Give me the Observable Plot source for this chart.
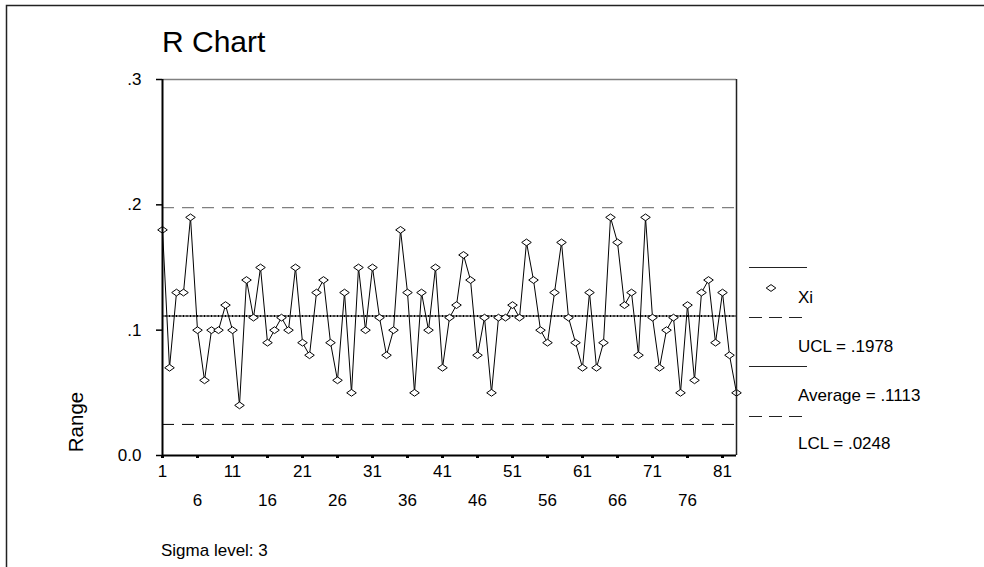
<!DOCTYPE html>
<html>
<head>
<meta charset="utf-8">
<script src="https://cdn.jsdelivr.net/npm/d3@7"></script>
<script src="https://cdn.jsdelivr.net/npm/@observablehq/plot@0.6"></script>
<style>
  html, body { margin: 0; padding: 0; background: #fff; }
  #wrap { position: relative; width: 984px; height: 567px; overflow: hidden; }
  #wrap svg { position: absolute; left: 0; top: 0; }
</style>
</head>
<body>
<div id="wrap"></div>
<script>
// ---- data ----
const samples = d3.range(1, 84);
const ranges = [
  0.18, 0.07, 0.13, 0.13, 0.19, 0.10, 0.06, 0.10, 0.10, 0.12,
  0.10, 0.04, 0.14, 0.11, 0.15, 0.09, 0.10, 0.11, 0.10, 0.15,
  0.09, 0.08, 0.13, 0.14, 0.09, 0.06, 0.13, 0.05, 0.15, 0.10,
  0.15, 0.11, 0.08, 0.10, 0.18, 0.13, 0.05, 0.13, 0.10, 0.15,
  0.07, 0.11, 0.12, 0.16, 0.14, 0.08, 0.11, 0.05, 0.11, 0.11,
  0.12, 0.11, 0.17, 0.14, 0.10, 0.09, 0.13, 0.17, 0.11, 0.09,
  0.07, 0.13, 0.07, 0.09, 0.19, 0.17, 0.12, 0.13, 0.08, 0.19,
  0.11, 0.07, 0.10, 0.11, 0.05, 0.12, 0.06, 0.13, 0.14, 0.09,
  0.13, 0.08, 0.05
];
const ucl = 0.1978;
const average = 0.1113;
const lcl = 0.0248;
const sigmaLevel = 3;
const yTicks = [0, 0.1, 0.2, 0.3];
const xTicksRow1 = [1, 11, 21, 31, 41, 51, 61, 71, 81];
const xTicksRow2 = [6, 16, 26, 36, 46, 56, 66, 76];
const titleText = "R Chart";
const yLabel = "Range";
const seriesName = "Xi";

const data = samples.map((s, i) => ({sample: s, range: ranges[i]}));
const fmt4 = v => d3.format(".4f")(v).replace(/^0/, "");
const yFmt = v => v === 0 ? "0.0" : d3.format(".1f")(v).replace(/^0/, "");

const FONT = "'Liberation Sans', Arial, Helvetica, sans-serif";

const diamond = {
  draw(ctx, size) {
    const r = Math.sqrt(size / Math.PI);
    const w = r * 1.2, h = r * 0.85;
    ctx.moveTo(0, -h); ctx.lineTo(w, 0); ctx.lineTo(0, h); ctx.lineTo(-w, 0); ctx.closePath();
  }
};

const chart = Plot.plot({
  width: 984,
  height: 567,
  marginLeft: 162,
  marginRight: 248,
  marginTop: 79,
  marginBottom: 112,
  style: {fontFamily: FONT, fontSize: "17px", background: "transparent", color: "#000"},
  x: {domain: [1, 83]},
  y: {domain: [0, 0.3]},
  marks: [
    Plot.ruleY([ucl], {stroke: "#808080", strokeWidth: 1.2, strokeDasharray: "12,8"}),
    Plot.ruleY([lcl], {stroke: "#000", strokeWidth: 1, strokeDasharray: "12,8"}),
    Plot.ruleY([average], {stroke: "#000", strokeWidth: 1}),
    Plot.ruleY([average], {stroke: "#000", strokeWidth: 2, strokeDasharray: "1,2.5"}),
    Plot.line(data, {x: "sample", y: "range", stroke: "#000", strokeWidth: 1}),
    Plot.dot(data, {x: "sample", y: "range", symbol: diamond, r: 4, fill: "#fff", stroke: "#000", strokeWidth: 1}),
    Plot.ruleY([0.3], {stroke: "#808080", strokeWidth: 1.5}),
    Plot.ruleX([83], {stroke: "#222", strokeWidth: 1.5}),
    Plot.ruleX([1], {stroke: "#000", strokeWidth: 2}),
    Plot.ruleY([0], {stroke: "#000", strokeWidth: 2}),
    Plot.axisY(yTicks, {tickSize: 6, tickPadding: 15, tickFormat: yFmt, label: null, strokeWidth: 1.5, fontSize: 17}),
    Plot.axisX(xTicksRow1, {tickSize: 3, tickPadding: 6, tickFormat: d => String(d), label: null, strokeWidth: 3, fontSize: 17}),
    Plot.axisX(xTicksRow2, {tickSize: 3, tickPadding: 35, tickFormat: d => String(d), label: null, strokeWidth: 3, fontSize: 17})
  ]
});

const wrap = document.getElementById("wrap");
wrap.appendChild(chart);

// ---- annotations overlay: border, title, axis label, legend, caption ----
const svg = d3.select(wrap).append("svg")
  .attr("width", 984).attr("height", 567)
  .style("pointer-events", "none")
  .style("font-family", FONT);

svg.append("path").attr("d", "M6.5,567V5.5H984").attr("fill", "none").attr("stroke", "#222").attr("stroke-width", 1.5);

svg.append("text").attr("x", 162).attr("y", 52).attr("font-size", 30).text(titleText);

svg.append("text").attr("transform", "translate(82.5,422) rotate(-90)")
  .attr("text-anchor", "middle").attr("font-size", 20.5).text(yLabel);

svg.append("text").attr("x", 161).attr("y", 555.5).attr("font-size", 17).text(`Sigma level: ${sigmaLevel}`);

const lg = svg.append("g");
const legendItems = [
  {label: seriesName, lineY: 267, dash: null, textY: 303, marker: true},
  {label: `UCL = ${fmt4(ucl)}`, lineY: 317, dash: "13,7", textY: 352},
  {label: `Average = ${fmt4(average)}`, lineY: 366, dash: null, textY: 401},
  {label: `LCL = ${fmt4(lcl)}`, lineY: 416, dash: "13,7", textY: 449}
];
for (const it of legendItems) {
  lg.append("line").attr("x1", 749).attr("x2", 807).attr("y1", it.lineY + 0.5).attr("y2", it.lineY + 0.5)
    .attr("stroke", "#222").attr("stroke-width", 1).attr("stroke-dasharray", it.dash);
  lg.append("text").attr("x", 798).attr("y", it.textY).attr("font-size", 17).text(it.label);
  if (it.marker) {
    lg.append("path").attr("transform", "translate(771,288)")
      .attr("d", d3.symbol(diamond, 4 * 4 * Math.PI)()).attr("fill", "#fff").attr("stroke", "#000").attr("stroke-width", 1);
  }
}
</script>
</body>
</html>
